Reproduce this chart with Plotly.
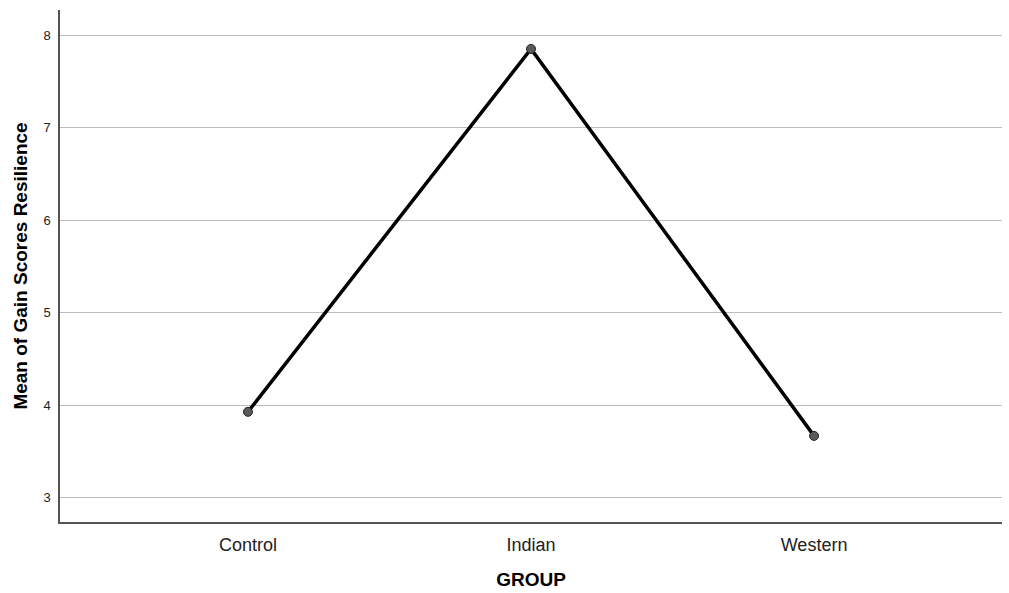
import plotly.graph_objects as go

groups = ["Control", "Indian", "Western"]
means = [3.93, 7.85, 3.67]
y_ticks = [3, 4, 5, 6, 7, 8]

fig = go.Figure()
fig.add_trace(go.Scatter(
    x=[0, 1, 2], y=means, mode="lines+markers",
    line=dict(color="black", width=3.5),
    marker=dict(size=9, color="#5a5a5a", line=dict(color="#222222", width=1)),
    showlegend=False,
))

fig.update_layout(
    width=1009, height=593,
    margin=dict(l=60, r=7, t=10, b=71),
    paper_bgcolor="white", plot_bgcolor="white",
    font=dict(family="Liberation Sans, Arial, sans-serif", color="black"),
    xaxis=dict(
        range=[-0.664, 2.664], tickmode="array", tickvals=[0, 1, 2], ticktext=groups,
        showgrid=False, zeroline=False, showline=True, linecolor="#555555", linewidth=1.5,
        ticks="", tickfont=dict(size=18, color="#222222"), automargin=False,
        ticklabelstandoff=6,
        title=dict(text="<b>GROUP</b>", font=dict(size=19), standoff=18),
    ),
    yaxis=dict(
        range=[2.74, 8.27], tickmode="array", tickvals=y_ticks,
        showgrid=True, gridcolor="#bdbdbd", gridwidth=1.3, zeroline=False,
        showline=True, linecolor="#555555", linewidth=1.5, automargin=False,
        ticks="", tickfont=dict(size=13, color="#222222"), ticklabelstandoff=5,
        title=dict(text="<b>Mean of Gain Scores Resilience</b>", font=dict(size=19), standoff=11),
    ),
)

fig.write_html(
    "out.html",
    config={"displayModeBar": False},
    post_script="document.body.style.margin='0';document.body.style.overflow='hidden';",
)
